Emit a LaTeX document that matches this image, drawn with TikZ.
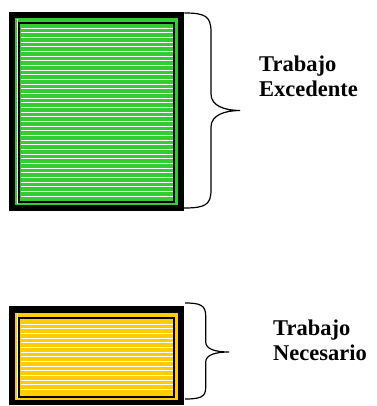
\documentclass[tikz,border=0pt]{standalone}
\usepackage{fontspec}
\setmainfont{Liberation Serif}
\definecolor{boxgreen}{RGB}{51,204,51}
\definecolor{boxyellow}{RGB}{255,204,0}
\tikzset{
  brace/.style={draw=black, line width=1.2pt},
  lbl/.style={anchor=base west, inner sep=0pt, font=\rmfamily\bfseries\fontsize{22.5}{25}\selectfont},
  hatch/.style={draw=white, line width=0.9pt},
  thinframe/.style={draw=black, line width=2pt}
}
\begin{document}
\begin{tikzpicture}[x=1pt,y=-1pt]
\useasboundingbox (0,0) rectangle (376,406);
% ---- top box (Trabajo Excedente)
\node[fill=black, inner sep=0pt, minimum width=175pt, minimum height=199pt, anchor=north west] (topbox) at (9,12) {};
\fill[boxgreen] (15.3,18.5) rectangle (177.7,204.7);
\draw[white, line width=0.6pt] (16.8,19) -- (16.8,204);
\foreach \i in {0,...,36} { \draw[hatch] (20.5,28+4.667*\i) -- (173.3,28+4.667*\i); }
\draw[thinframe] (19.3,22.7) rectangle (174.3,202.3);
% ---- bottom box (Trabajo Necesario)
\node[fill=black, inner sep=0pt, minimum width=175pt, minimum height=99pt, anchor=north west] (botbox) at (9,306) {};
\fill[boxyellow] (15,312.5) rectangle (178,399.5);
\draw[white, line width=0.6pt] (16.8,313) -- (16.8,399);
\foreach \i in {0,...,14} { \draw[hatch] (20.5,324+4.667*\i) -- (173.3,324+4.667*\i); }
\draw[thinframe] (19.3,318.3) rectangle (174.3,396.5);
% ---- labels
\node[lbl] (t1) at (259,72) {Trabajo};
\node[lbl] (t2) at (259,97) {Excedente};
\node[lbl] (t3) at (273,335) {Trabajo};
\node[lbl] (t4) at (273,360) {Necesario};
% ---- braces
\coordinate (b1s) at (topbox.north east);
\draw[brace] ([yshift=-1pt]b1s) .. controls (205,13) and (211,16) .. (211,32) -- (211,94)
  .. controls (211,106) and (225,110.5) .. (240,110.5)
  .. controls (225,110.5) and (211,115) .. (211,127) -- (211,190)
  .. controls (211,205) and (205,208) .. (184,208);
\draw[brace] (185,303) .. controls (200,303) and (205.7,305) .. (205.7,316) -- (205.7,342)
  .. controls (205.7,349) and (215,352) .. (229,352)
  .. controls (215,352) and (205.7,355) .. (205.7,362) -- (205.7,388)
  .. controls (205.7,397) and (200,399) .. (185,399);
\end{tikzpicture}
\end{document}
